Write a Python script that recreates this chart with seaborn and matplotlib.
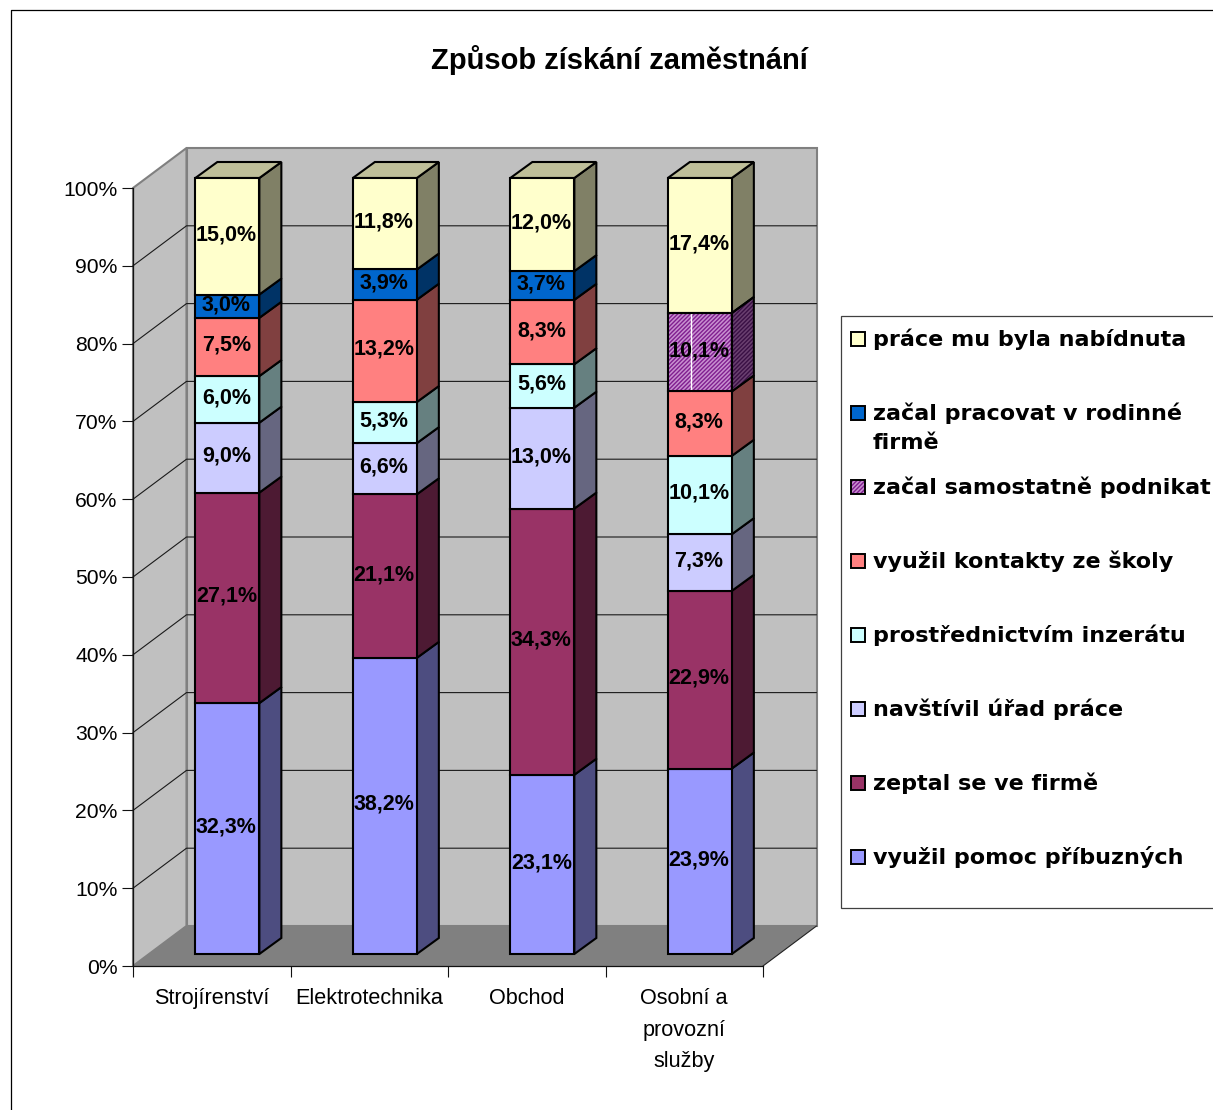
import matplotlib
matplotlib.use("Agg")
import matplotlib.pyplot as plt
from matplotlib.patches import Polygon, Rectangle
import numpy as np
import pandas as pd
import seaborn as sns

# Data (%)
categories = ["Strojírenství", "Elektrotechnika", "Obchod", "Osobní a\nprovozní\nslužby"]
pomoc = [32.3, 38.2, 23.1, 23.9]
zeptal = [27.1, 21.1, 34.3, 22.9]
urad = [9.0, 6.6, 13.0, 7.3]
inzerat = [6.0, 5.3, 5.6, 10.1]
kontakty = [7.5, 13.2, 8.3, 8.3]
podnikat = [0, 0, 0, 10.1]
rodinna = [3.0, 3.9, 3.7, 0]
nabidka = [15.0, 11.8, 12.0, 17.4]

series_names = ["využil pomoc příbuzných", "zeptal se ve firmě", "navštívil úřad práce",
                "prostřednictvím inzerátu", "využil kontakty ze školy", "začal samostatně podnikat",
                "začal pracovat v rodinné\nfirmě", "práce mu byla nabídnuta"]
series_values = [pomoc, zeptal, urad, inzerat, kontakty, podnikat, rodinna, nabidka]
series_colors = ["#9999FF", "#993366", "#CCCCFF", "#CCFFFF", "#FF8080", "#C890D0", "#0066CC", "#FFFFCC"]
side_colors = ["#4D4D80", "#4D1A33", "#666680", "#668080", "#804040", "#6A4070", "#003366", "#808066"]
y_ticks = [0, 10, 20, 30, 40, 50, 60, 70, 80, 90, 100]
y_labels = ["0%", "10%", "20%", "30%", "40%", "50%", "60%", "70%", "80%", "90%", "100%"]

sns.set_style("white")
plt.rcParams["font.family"] = ["Liberation Sans", "DejaVu Sans"]
plt.rcParams["hatch.linewidth"] = 1.0

W, H = 1213, 1110
fig = plt.figure(figsize=(W / 100, H / 100), dpi=100)

# Front plane of the fake 3D box, in figure pixels
ax = fig.add_axes([133 / W, 1 - 966 / H, 630 / W, 778 / H])
ax.patch.set_alpha(0)
ux = 4 / 630   # data units per pixel
uy = 100 / 778

wall_dx, wall_dy = 53.5 * ux, 40 * uy
bar_dx, bar_dy = 22 * ux, 16 * uy
shift_x, shift_y = 15.6 * ux, 12 * uy
bar_width = 64 * ux
height_scale = 776 / 778

ink = "#000000"
wall_edge = "#808080"
x0, x1 = -0.5, 3.5

# Walls and floor
ax.add_patch(Polygon([(x0, 0), (x0, 100), (x0 + wall_dx, 100 + wall_dy), (x0 + wall_dx, wall_dy)],
                     fc="#C0C0C0", ec=wall_edge, lw=1.5, clip_on=False, zorder=0))
ax.add_patch(Polygon([(x0 + wall_dx, wall_dy), (x0 + wall_dx, 100 + wall_dy),
                      (x1 + wall_dx, 100 + wall_dy), (x1 + wall_dx, wall_dy)],
                     fc="#C0C0C0", ec=wall_edge, lw=1.5, clip_on=False, zorder=0))
ax.add_patch(Polygon([(x0, 0), (x1, 0), (x1 + wall_dx, wall_dy), (x0 + wall_dx, wall_dy)],
                     fc="#808080", ec="none", clip_on=False, zorder=1))
ax.plot([x1, x1 + wall_dx], [0, wall_dy], color="#222222", lw=0.8, clip_on=False, zorder=1)

# Gridlines on side and back wall
for t in y_ticks[1:-1]:
    ax.plot([x0, x0 + wall_dx, x1 + wall_dx], [t, t + wall_dy, t + wall_dy],
            color="#1A1A1A", lw=0.8, clip_on=False, zorder=1)

# Stacked bars, bottom to top
values = np.array(series_values, dtype=float)
totals = values.sum(axis=0)
shares = values / totals * 100 * height_scale
bottoms = np.zeros(len(categories))
tops = []
for i, name in enumerate(series_names):
    df = pd.DataFrame({"obor": categories, "share": shares[i], "bottom": bottoms, "raw": values[i]})
    df = df[df["raw"] > 0]
    n_before = len(ax.patches)
    sns.barplot(data=df, x="obor", y="share", order=categories, bottom=df["bottom"].values,
                color=series_colors[i], saturation=1, width=bar_width, errorbar=None,
                edgecolor=ink, linewidth=1.5, ax=ax, zorder=3)
    for bar, raw in zip(ax.patches[n_before:], df["raw"]):
        bar.set_x(bar.get_x() + shift_x)
        bar.set_y(bar.get_y() + shift_y)
        bar.set_clip_on(False)
        left, low = bar.get_x(), bar.get_y()
        right, top = left + bar.get_width(), low + bar.get_height()
        side_pts = [(right, low), (right + bar_dx, low + bar_dy), (right + bar_dx, top + bar_dy), (right, top)]
        side = Polygon(side_pts, fc=side_colors[i], ec=ink, lw=1.5, clip_on=False, zorder=2.9)
        ax.add_patch(side)
        if name == "začal samostatně podnikat":
            # hatch takes the edge colour, so the black outline goes on separately
            bar.set_hatch("////////")
            bar.set_edgecolor("#801F90")
            bar.set_linewidth(0)
            side.set_hatch("////////")
            side.set_edgecolor("#3A1045")
            side.set_linewidth(0)
            ax.add_patch(Polygon(side_pts, fill=False, ec=ink, lw=1.5, clip_on=False, zorder=3.1))
            ax.add_patch(Rectangle((left, low), right - left, top - low, fill=False, ec=ink, lw=1.5,
                                   clip_on=False, zorder=3.6))
            ax.plot([left + 23 * ux] * 2, [low, top], color="white", lw=1, zorder=3.5)
        ax.text((left + right) / 2 - 1 * ux, (low + top) / 2 + 1.5 * uy, f"{raw:.1f}%".replace(".", ","),
                ha="center", va="center", fontsize=15.5, fontweight="bold", color="black", zorder=5)
        if abs(top - (100 * height_scale + shift_y)) < 0.01:
            tops.append((left, right, top))
    bottoms = bottoms + shares[i]

# Top faces of the columns
for left, right, top in tops:
    ax.add_patch(Polygon([(left, top), (left + bar_dx, top + bar_dy), (right + bar_dx, top + bar_dy), (right, top)],
                         fc="#BFBF99", ec=ink, lw=1.5, clip_on=False, zorder=2.9))

# Axes
ax.set_xlim(x0, x1)
ax.set_ylim(0, 100)
ax.set_xlabel("")
ax.set_ylabel("")
ax.set_yticks(y_ticks, y_labels, fontsize=15.2, color="black")
ax.set_xticks(np.arange(len(categories)), categories, fontsize=15.6, linespacing=1.65, color="black")
ax.set_xticks(np.arange(len(categories) + 1) - 0.5, minor=True)
ax.tick_params(axis="y", length=8, width=0.8, color="#111111", pad=3, left=True)
ax.tick_params(axis="x", which="major", length=0, pad=16, bottom=False)
ax.tick_params(axis="x", which="minor", length=8, width=0.8, color="#111111", bottom=True)
sns.despine(ax=ax)
for s in ["left", "bottom"]:
    ax.spines[s].set_color("#111111")
    ax.spines[s].set_linewidth(0.9)
    ax.spines[s].set_zorder(2)

fig.suptitle("Způsob získání zaměstnání", x=619 / W, y=1 - 60 / H, va="center",
             fontsize=21, fontweight="bold", color="black")

# Overlay in figure pixels for chart frame and legend
over = fig.add_axes([0, 0, 1, 1])
over.set_xlim(0, W)
over.set_ylim(H, 0)
over.axis("off")
over.plot([11, 11, W], [H, 10, 10], color="black", lw=0.9)
over.add_patch(Rectangle((841, 316), 400, 592, fc="white", ec="#404040", lw=0.9, clip_on=True))

first_row = 338
row_step = 74
for k, i in enumerate(range(len(series_names) - 1, -1, -1)):
    yc = first_row + k * row_step
    is_hatched = series_names[i] == "začal samostatně podnikat"
    sw = Rectangle((851, yc - 6), 14, 14, fc=series_colors[i], ec="#801F90" if is_hatched else "black",
                   lw=0 if is_hatched else 1.4, hatch="////////" if is_hatched else None)
    over.add_patch(sw)
    if is_hatched:
        over.add_patch(Rectangle((851, yc - 6), 14, 14, fill=False, ec="black", lw=1.4))
    over.text(873, yc - 10, series_names[i], ha="left", va="top", fontsize=16, fontweight="bold",
              family="DejaVu Sans", color="black", linespacing=1.6)

fig.savefig("out.png", dpi=100)
